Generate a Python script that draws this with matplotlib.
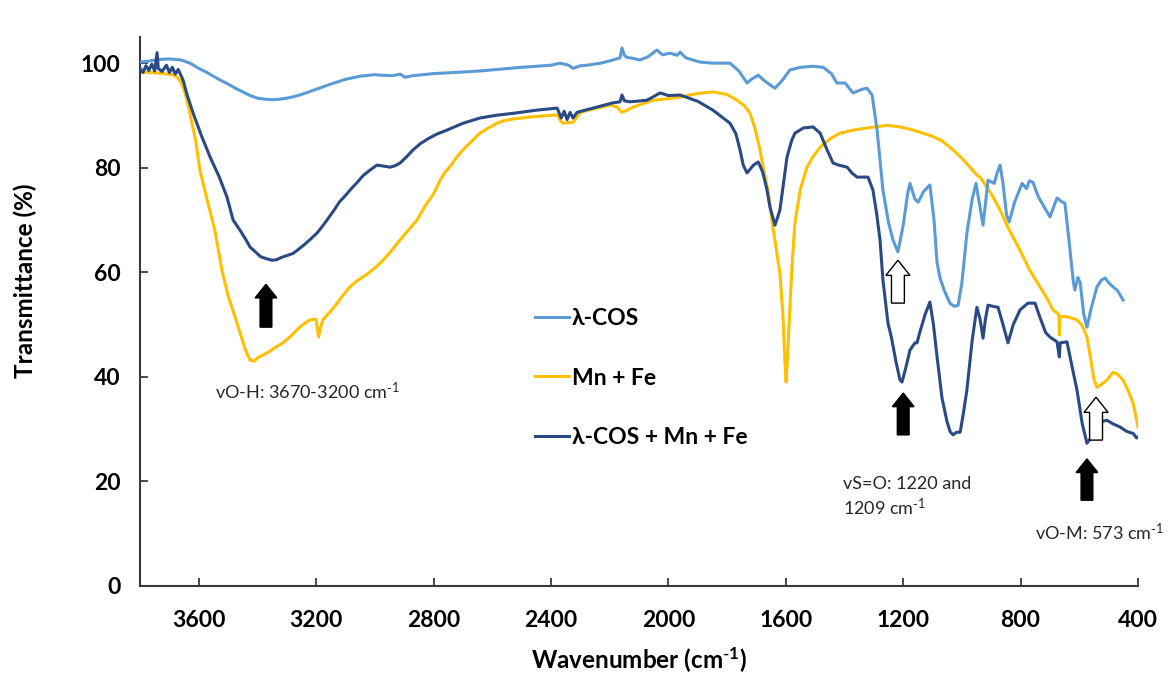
import matplotlib
matplotlib.use("Agg")
import matplotlib.pyplot as plt
from matplotlib.patches import FancyArrow

plt.rcParams['font.family'] = ['Lato', 'DejaVu Sans']
plt.rcParams['mathtext.default'] = 'regular'

# ---- spectra (wavenumber in cm-1, transmittance in %) ----
cos_wn = [3800, 3770, 3740, 3700, 3660, 3630, 3600, 3575, 3550, 3525, 3500, 3475, 3450, 3425,
          3400, 3375, 3350, 3325, 3300, 3275, 3250, 3225, 3200, 3150, 3100, 3050, 3000, 2982,
          2940, 2914, 2897, 2870, 2800, 2700, 2642, 2500, 2400, 2369, 2340, 2325, 2300, 2277,
          2230, 2189, 2165, 2158, 2150, 2141, 2120, 2097, 2070, 2039, 2020, 1994, 1970, 1960,
          1940, 1892, 1850, 1790, 1760, 1732, 1715, 1694, 1670, 1637, 1615, 1586, 1550, 1507,
          1473, 1445, 1426, 1398, 1371, 1340, 1323, 1306, 1289, 1269, 1250, 1235, 1218, 1200,
          1185, 1177, 1160, 1149, 1130, 1109, 1095, 1085, 1075, 1060, 1040, 1025, 1013, 1000,
          983, 965, 952, 940, 928, 920, 911, 890, 880, 870, 860, 848, 839, 820, 795, 780, 770,
          758, 740, 720, 700, 676, 660, 649, 635, 620, 615, 605, 597, 585, 574, 560, 540,
          525, 512, 500, 485, 470, 451]
cos_t = [100.2, 100.4, 100.7, 100.8, 100.6, 100.0, 99.0, 98.3, 97.5, 96.7, 96.0, 95.2, 94.5, 93.8,
         93.3, 93.1, 93.0, 93.1, 93.3, 93.6, 94.0, 94.5, 95.0, 96.0, 96.9, 97.5, 97.8, 97.7,
         97.6, 97.9, 97.3, 97.6, 98.0, 98.3, 98.5, 99.2, 99.6, 100.0, 99.6, 99.0, 99.5, 99.6,
         100.0, 100.6, 101.0, 102.9, 101.5, 101.1, 100.9, 100.6, 101.2, 102.5, 101.6, 101.9, 101.5, 102.1,
         101.0, 100.2, 100.0, 100.0, 98.5, 96.2, 97.0, 97.7, 96.5, 95.2, 96.5, 98.7, 99.2, 99.4,
         99.2, 98.0, 96.2, 96.2, 94.3, 95.0, 95.2, 93.9, 87.2, 75.7, 69.5, 66.2, 63.9, 69.0,
         75.0, 77.0, 74.0, 73.4, 75.5, 76.7, 70.0, 62.0, 59.0, 56.5, 54.0, 53.5, 53.7, 58.0,
         67.5, 74.0, 77.0, 73.0, 69.0, 73.0, 77.6, 77.0, 79.0, 80.5, 77.0, 71.0, 69.6, 73.5, 77.0, 76.0, 77.5,
         77.2, 74.5, 72.5, 70.6, 74.2, 73.5, 73.2, 66.0, 58.0, 56.6, 59.0, 58.0, 52.0, 49.5, 53.0, 57.2,
         58.5, 58.9, 58.0, 57.2, 56.5, 54.7]

mnfe_wn = [3800, 3760, 3720, 3690, 3675, 3664, 3655, 3645, 3630, 3610, 3596, 3570, 3545, 3521,
           3500, 3476, 3459, 3440, 3425, 3410, 3401, 3380, 3360, 3340, 3313, 3290, 3260, 3240,
           3221, 3200, 3192, 3185, 3177, 3150, 3130, 3110, 3085, 3060, 3030, 3000, 2972, 2945,
           2920, 2890, 2856, 2830, 2800, 2778, 2760, 2740, 2720, 2700, 2670, 2642, 2610, 2584,
           2560, 2530, 2500, 2471, 2379, 2365, 2359, 2325, 2310, 2301, 2250, 2199, 2175, 2158,
           2140, 2120, 2052, 2000, 1960, 1900, 1848, 1800, 1766, 1740, 1722, 1705, 1688, 1675,
           1661, 1644, 1620, 1610, 1603, 1599, 1594, 1586, 1578, 1569, 1550, 1528, 1505, 1483,
           1450, 1415, 1370, 1323, 1255, 1211, 1180, 1143, 1100, 1070, 1040, 1000, 970, 949,
           938, 900, 870, 840, 802, 770, 734, 710, 690, 675, 670, 668, 666, 642, 608, 590, 574,
           560, 550, 540, 525, 506, 485, 470, 451, 435, 417, 400]
mnfe_t = [98.3, 98.2, 98.0, 97.8, 97.4, 96.7, 95.6, 94.0, 90.4, 85.0, 79.5, 73.5, 68.0, 60.4,
          55.5, 51.4, 48.4, 45.0, 43.2, 43.0, 43.6, 44.2, 44.8, 45.6, 46.5, 47.6, 49.3, 50.2,
          50.9, 51.0, 47.6, 49.5, 50.9, 52.6, 54.0, 55.5, 57.2, 58.4, 59.5, 60.8, 62.3, 64.0,
          65.8, 67.8, 70.0, 72.6, 75.0, 77.6, 79.2, 80.5, 82.1, 83.4, 85.1, 86.6, 87.7, 88.5,
          89.0, 89.3, 89.5, 89.7, 90.1, 88.8, 88.5, 88.7, 89.8, 90.6, 91.3, 92.0, 91.6, 90.6,
          91.0, 91.6, 92.9, 93.2, 93.5, 94.2, 94.5, 94.0, 92.9, 91.8, 90.4, 87.5, 83.4, 79.5,
          75.7, 68.6, 59.8, 52.0, 43.0, 39.0, 44.0, 53.3, 62.0, 69.4, 76.0, 80.1, 82.3, 83.9,
          85.5, 86.6, 87.2, 87.6, 88.1, 87.8, 87.4, 86.8, 86.0, 85.2, 83.9, 81.8, 79.9, 78.6,
          78.2, 75.0, 71.9, 68.2, 64.2, 60.5, 57.2, 55.0, 52.8, 52.2, 51.8, 48.0, 51.6, 51.5, 50.9, 49.8, 47.6,
          43.0, 39.5, 38.0, 38.5, 39.4, 40.9, 40.5, 39.4, 37.5, 35.0, 30.4]

mix_wn = [3800, 3790, 3780, 3770, 3760, 3750, 3742, 3738, 3725, 3710, 3700, 3690, 3680,
          3670, 3653, 3640, 3619, 3590, 3561, 3530, 3504, 3483, 3459, 3440, 3425, 3405, 3390,
          3370, 3350, 3335, 3320, 3300, 3279, 3260, 3240, 3220, 3197, 3180, 3163, 3140, 3120,
          3100, 3085, 3060, 3040, 3015, 2993, 2970, 2948, 2930, 2914, 2890, 2870, 2845, 2820,
          2790, 2754, 2700, 2642, 2590, 2529, 2450, 2379, 2365, 2355, 2345, 2335, 2325,
          2311, 2250, 2189, 2165, 2158, 2150, 2131, 2073, 2028, 2000, 1960, 1900, 1848,
          1790, 1770, 1756, 1745, 1732, 1710, 1694, 1685, 1678, 1665, 1654, 1637, 1628,
          1620, 1608, 1596, 1580, 1569, 1540, 1507, 1483, 1460, 1439, 1420, 1391, 1375,
          1357, 1320, 1303, 1290, 1279, 1269, 1252, 1240, 1225, 1211, 1204, 1190, 1177,
          1160, 1153, 1143, 1125, 1109, 1097, 1085, 1068, 1051, 1040, 1030, 1018, 1006,
          995, 983, 965, 949, 938, 928, 920, 911, 895, 877, 860, 843, 825, 802, 775, 751,
          735, 715, 700, 676, 670, 668, 665, 642, 625, 608, 590, 574, 565, 557, 540, 520,
          506, 485, 461, 440, 425, 417, 405, 400]
mix_t = [99.0, 98.2, 99.5, 98.6, 99.8, 98.5, 102.0, 99.0, 98.4, 99.6, 98.2, 99.2, 97.9,
         98.8, 96.7, 94.0, 90.4, 86.0, 82.0, 78.2, 74.4, 70.0, 68.0, 66.3, 64.8, 63.8, 63.0,
         62.6, 62.3, 62.4, 62.8, 63.2, 63.6, 64.4, 65.3, 66.3, 67.5, 68.7, 70.0, 71.8, 73.5,
         74.7, 75.7, 77.2, 78.5, 79.6, 80.5, 80.3, 80.1, 80.4, 80.9, 82.2, 83.4, 84.6, 85.5,
         86.4, 87.2, 88.5, 89.5, 90.0, 90.4, 91.0, 91.4, 89.5, 90.8, 89.2, 90.6, 89.5,
         90.6, 91.5, 92.4, 92.6, 93.9, 92.8, 92.6, 92.9, 94.3, 93.8, 93.9, 92.7, 91.0,
         88.5, 86.5, 83.4, 80.5, 79.0, 80.5, 81.1, 80.0, 79.0, 76.0, 72.5, 69.0, 70.5,
         71.9, 77.0, 82.0, 85.2, 86.6, 87.6, 87.8, 86.6, 83.5, 80.9, 80.5, 80.1, 79.0,
         78.2, 78.2, 75.7, 71.0, 66.2, 58.5, 50.3, 47.5, 43.0, 39.4, 39.0, 42.0, 45.1,
         46.5, 46.5, 48.6, 52.0, 54.3, 50.0, 44.0, 36.0, 31.5, 29.5, 28.9, 29.4, 29.4,
         33.0, 37.5, 47.0, 53.3, 51.0, 47.4, 51.0, 53.7, 53.5, 53.3, 50.0, 46.5, 50.0, 52.8, 54.1, 54.1,
         51.5, 48.5, 47.6, 46.7, 44.5, 43.8, 46.5, 46.7, 42.0, 37.5, 31.0, 27.3, 28.0, 28.5, 30.5, 31.5,
         31.7, 31.0, 30.4, 29.6, 29.3, 29.2, 28.3, 28.5]

x_ticks = [3600, 3200, 2800, 2400, 2000, 1600, 1200, 800, 400]
y_ticks = [0, 20, 40, 60, 80, 100]

C_COS = '#5B9BD5'
C_MNFE = '#FFC000'
C_MIX = '#2A4A85'
AX_COLOR = '#3a3a3a'
SUP = r'$^{\text{-}1}$'

fig = plt.figure(figsize=(11.69, 6.75), dpi=100)
ax = fig.add_axes([0.1198, 0.1319, 0.8537, 0.8133])

ax.plot(cos_wn, cos_t, color=C_COS, lw=2.2, label='λ-COS', zorder=3)
ax.plot(mnfe_wn, mnfe_t, color=C_MNFE, lw=2.2, label='Mn + Fe', zorder=2)
ax.plot(mix_wn, mix_t, color=C_MIX, lw=2.2, label='λ-COS + Mn + Fe', zorder=4)

ax.set_xlim(3800, 400)
ax.set_ylim(0, 105)
ax.set_xticks(x_ticks)
ax.set_yticks(y_ticks)

for side in ('top', 'right'):
    ax.spines[side].set_visible(False)
for side in ('left', 'bottom'):
    ax.spines[side].set_color(AX_COLOR)
    ax.spines[side].set_linewidth(1.5)

ax.tick_params(axis='both', direction='in', length=5.5, width=1.3, color=AX_COLOR,
               labelsize=16.5, labelcolor='black')
ax.tick_params(axis='x', pad=17)
ax.tick_params(axis='y', pad=14)
for lab in ax.get_xticklabels() + ax.get_yticklabels():
    lab.set_fontweight('bold')

ax.set_xlabel('Wavenumber (cm' + SUP + ')', fontsize=17.5, fontweight='bold', va='center')
ax.xaxis.set_label_coords(0.5, -0.135)
ax.set_ylabel('Transmittance (%)', fontsize=17.5, fontweight='bold', va='center')
ax.yaxis.set_label_coords(-0.115, 0.556)

leg = ax.legend(loc='center left', bbox_to_anchor=(535 / 1169, 1 - 378 / 675),
                bbox_transform=fig.transFigure, frameon=False, fontsize=16.5,
                handlelength=1.5, handletextpad=0.12, labelspacing=1.7,
                borderpad=0, borderaxespad=0)
for t in leg.get_texts():
    t.set_fontweight('bold')


def band_arrow(x, y0, y1, filled, shaft=40, head=74, head_len=2.6):
    """Upward block arrow marking an absorption band."""
    arr = FancyArrow(x, y0, 0, y1 - y0, width=shaft, head_width=head,
                     head_length=head_len, length_includes_head=True,
                     facecolor='black' if filled else 'white',
                     edgecolor='black', linewidth=1.0, zorder=6)
    ax.add_patch(arr)


band_arrow(3371, 49.5, 57.7, True)
band_arrow(1218, 54.1, 62.3, False, shaft=44, head=82, head_len=2.9)
band_arrow(1200, 28.9, 36.9, True)
band_arrow(543, 27.9, 36.1, False, shaft=44, head=82, head_len=2.9)
band_arrow(574, 16.4, 24.3, True)

ax.text(3545, 37.1, 'vO-H: 3670-3200 cm' + SUP, fontsize=13, ha='left', va='center',
        color='#262626')
ax.text(1405, 17.0, 'vS=O: 1220 and\n1209 cm' + SUP, fontsize=13, ha='left', va='center',
        color='#262626', linespacing=1.3)
ax.text(751, 10.3, 'vO-M: 573 cm' + SUP, fontsize=13, ha='left', va='center',
        color='#262626')

fig.savefig('out.png', dpi=100)
